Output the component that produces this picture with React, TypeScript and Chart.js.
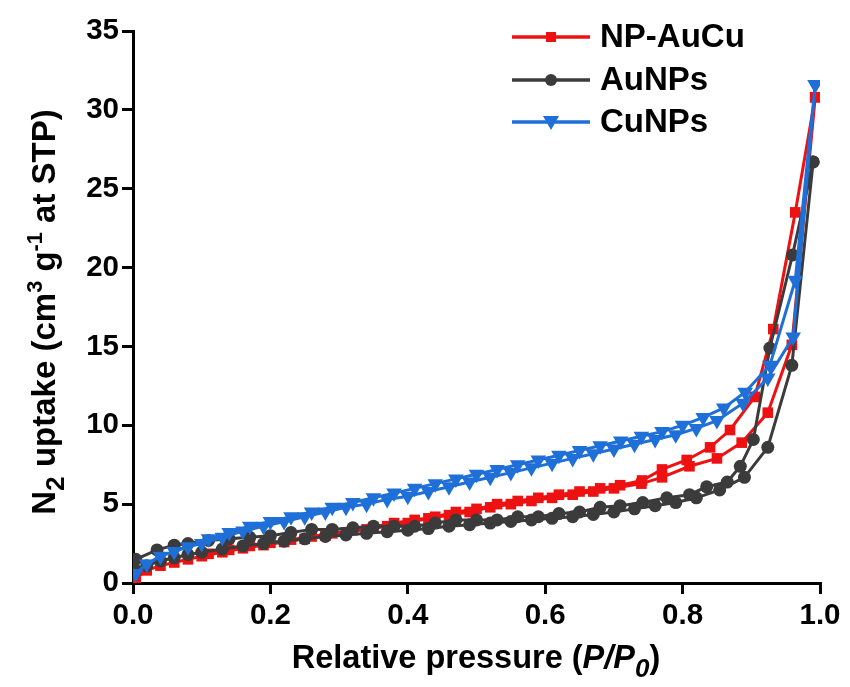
import { useEffect, useRef } from "react";
import { Chart, registerables } from "chart.js";

Chart.register(...registerables);

// N2 sorption isotherms: adsorption branch (rising P/P0) followed by desorption branch.
const AUCU_ADS_P = [0.004, 0.02, 0.04, 0.06, 0.08, 0.10, 0.13, 0.16, 0.19, 0.22, 0.25, 0.28, 0.31, 0.34, 0.37, 0.40, 0.43, 0.46, 0.49, 0.52, 0.55, 0.58, 0.61, 0.64, 0.67, 0.70, 0.74, 0.77, 0.81, 0.85, 0.886, 0.924, 0.959, 0.993];
const AUCU_ADS_V = [0.3, 0.8, 1.1, 1.3, 1.5, 1.7, 1.95, 2.2, 2.4, 2.6, 2.8, 3.0, 3.2, 3.4, 3.6, 3.8, 4.1, 4.3, 4.5, 4.8, 5.0, 5.2, 5.4, 5.6, 5.8, 6.0, 6.3, 6.7, 7.4, 7.9, 8.9, 10.8, 15.1, 30.8];
const AUCU_DES_P = [0.993, 0.964, 0.932, 0.905, 0.869, 0.84, 0.806, 0.77, 0.741, 0.709, 0.68, 0.65, 0.62, 0.59, 0.56, 0.53, 0.50, 0.47, 0.44, 0.41, 0.38, 0.35, 0.32, 0.29, 0.26, 0.23, 0.20, 0.17, 0.14, 0.11];
const AUCU_DES_V = [30.8, 23.5, 16.1, 11.8, 9.7, 8.6, 7.8, 7.2, 6.5, 6.2, 6.0, 5.8, 5.6, 5.4, 5.2, 5.0, 4.7, 4.5, 4.2, 4.0, 3.8, 3.55, 3.35, 3.15, 2.95, 2.75, 2.55, 2.35, 2.1, 1.85];

const AU_ADS_P = [0.004, 0.02, 0.04, 0.06, 0.08, 0.10, 0.13, 0.16, 0.19, 0.22, 0.25, 0.28, 0.31, 0.34, 0.37, 0.40, 0.43, 0.46, 0.49, 0.52, 0.55, 0.58, 0.61, 0.64, 0.67, 0.70, 0.73, 0.76, 0.79, 0.82, 0.854, 0.89, 0.924, 0.959, 0.99];
const AU_ADS_V = [0.8, 1.1, 1.4, 1.6, 1.8, 1.95, 2.15, 2.35, 2.5, 2.65, 2.8, 2.95, 3.05, 3.15, 3.25, 3.35, 3.45, 3.6, 3.7, 3.8, 3.9, 4.0, 4.1, 4.2, 4.35, 4.5, 4.7, 4.9, 5.1, 5.4, 5.9, 6.7, 8.6, 13.8, 26.7];
const AU_DES_P = [0.99, 0.96, 0.927, 0.903, 0.884, 0.865, 0.835, 0.81, 0.777, 0.742, 0.709, 0.68, 0.65, 0.62, 0.59, 0.56, 0.53, 0.50, 0.47, 0.44, 0.41, 0.38, 0.35, 0.32, 0.29, 0.26, 0.23, 0.20, 0.17, 0.14, 0.11, 0.08, 0.06, 0.035, 0.004];
const AU_DES_V = [26.7, 20.8, 14.9, 9.1, 7.4, 6.4, 6.1, 5.6, 5.4, 5.1, 4.9, 4.8, 4.5, 4.4, 4.2, 4.2, 4.0, 4.0, 4.0, 3.8, 3.6, 3.6, 3.6, 3.5, 3.4, 3.4, 3.2, 3.0, 2.9, 2.8, 2.7, 2.5, 2.4, 2.1, 1.5];

const CU_ADS_P = [0.004, 0.02, 0.04, 0.06, 0.08, 0.10, 0.13, 0.16, 0.19, 0.22, 0.25, 0.28, 0.31, 0.34, 0.37, 0.40, 0.43, 0.46, 0.49, 0.52, 0.55, 0.58, 0.61, 0.64, 0.67, 0.70, 0.73, 0.76, 0.79, 0.82, 0.85, 0.888, 0.924, 0.961, 0.993];
const CU_ADS_V = [0.6, 1.2, 1.7, 2.0, 2.3, 2.5, 2.9, 3.3, 3.6, 3.9, 4.2, 4.5, 4.8, 5.0, 5.3, 5.5, 5.8, 6.1, 6.4, 6.7, 7.0, 7.3, 7.6, 7.9, 8.2, 8.5, 8.8, 9.1, 9.4, 9.8, 10.3, 11.4, 13.0, 15.6, 31.6];
const CU_DES_P = [0.993, 0.964, 0.927, 0.891, 0.86, 0.83, 0.80, 0.77, 0.74, 0.71, 0.68, 0.65, 0.62, 0.59, 0.56, 0.53, 0.50, 0.47, 0.44, 0.41, 0.38, 0.35, 0.32, 0.29, 0.26, 0.23, 0.20, 0.17, 0.14, 0.11];
const CU_DES_V = [31.6, 19.2, 13.8, 12.1, 11.1, 10.5, 10.0, 9.6, 9.3, 9.0, 8.7, 8.4, 8.1, 7.8, 7.5, 7.2, 6.9, 6.6, 6.3, 6.0, 5.7, 5.4, 5.1, 4.8, 4.5, 4.2, 3.9, 3.6, 3.2, 2.8];

const SERIES_NAMES = ["NP-AuCu", "AuNPs", "CuNPs"];
const X_TICKS = [0, 0.2, 0.4, 0.6, 0.8, 1.0];
const Y_TICKS = [0, 5, 10, 15, 20, 25, 30, 35];

const RED = "#ee1111";
const DARK = "#3b3b3b";
const BLUE = "#1f6fd8";
const FONT = "'Liberation Sans', Arial, sans-serif";

const zip = (p: number[], v: number[]) => p.map((x, i) => ({ x, y: v[i] }));

type Part = { t: string; sub?: boolean; sup?: boolean; it?: boolean };

function drawRich(ctx: CanvasRenderingContext2D, parts: Part[], cx: number, baseline: number, size: number) {
  const fontFor = (p: Part) => {
    const s = p.sub ? size * 0.8 : p.sup ? size * 0.66 : size;
    return `${p.it ? "italic " : ""}bold ${s}px ${FONT}`;
  };
  let total = 0;
  const widths = parts.map((p) => {
    ctx.font = fontFor(p);
    const w = ctx.measureText(p.t).width;
    total += w;
    return w;
  });
  let x = cx - total / 2;
  ctx.textAlign = "left";
  ctx.textBaseline = "alphabetic";
  ctx.fillStyle = "#000";
  parts.forEach((p, i) => {
    ctx.font = fontFor(p);
    const dy = p.sub ? size * 0.28 : p.sup ? -size * 0.4 : 0;
    ctx.fillText(p.t, x, baseline + dy);
    x += widths[i];
  });
}

function drawMarker(ctx: CanvasRenderingContext2D, kind: string, x: number, y: number, color: string) {
  ctx.fillStyle = color;
  ctx.beginPath();
  if (kind === "rect") {
    ctx.rect(x - 5, y - 5, 10, 10);
  } else if (kind === "circle") {
    ctx.arc(x, y, 6, 0, Math.PI * 2);
  } else {
    ctx.moveTo(x - 8, y - 6);
    ctx.lineTo(x + 8, y - 6);
    ctx.lineTo(x, y + 8);
    ctx.closePath();
  }
  ctx.fill();
}

const decorations = {
  id: "decorations",
  afterDraw(chart: Chart) {
    const ctx = chart.ctx;
    ctx.save();
    // x-axis title
    drawRich(
      ctx,
      [{ t: "Relative pressure (" }, { t: "P/P", it: true }, { t: "0", it: true, sub: true }, { t: ")" }],
      476,
      668,
      32.5
    );
    // y-axis title (rotated)
    ctx.translate(55, 312);
    ctx.rotate(-Math.PI / 2);
    drawRich(
      ctx,
      [
        { t: "N" },
        { t: "2", sub: true },
        { t: " uptake (cm" },
        { t: "3", sup: true },
        { t: " g" },
        { t: "-1", sup: true },
        { t: " at STP)" },
      ],
      0,
      0,
      33
    );
    ctx.restore();

    // legend
    ctx.save();
    const rows = [
      { name: SERIES_NAMES[0], color: RED, kind: "rect", y: 37 },
      { name: SERIES_NAMES[1], color: DARK, kind: "circle", y: 80 },
      { name: SERIES_NAMES[2], color: BLUE, kind: "tri", y: 122 },
    ];
    rows.forEach((r) => {
      ctx.strokeStyle = r.color;
      ctx.lineWidth = 3.5;
      ctx.beginPath();
      ctx.moveTo(512, r.y);
      ctx.lineTo(590, r.y);
      ctx.stroke();
      drawMarker(ctx, r.kind, 551, r.y, r.color);
      ctx.fillStyle = "#000";
      ctx.font = `bold 33px ${FONT}`;
      ctx.textAlign = "left";
      ctx.textBaseline = "middle";
      ctx.fillText(r.name, 600, r.y + 1);
    });
    ctx.restore();
  },
};

export default function App() {
  const ref = useRef<HTMLCanvasElement>(null);

  useEffect(() => {
    document.body.style.margin = "0";
    const canvas = ref.current;
    if (!canvas) return;

    const axisCommon = {
      type: "linear" as const,
      z: 1,
      border: { display: true, color: "#000", width: 3 },
      grid: {
        drawOnChartArea: false,
        drawTicks: true,
        tickLength: 11,
        lineWidth: 3,
        color: "#000",
      },
    };

    const chart = new Chart(canvas, {
      type: "line",
      data: {
        datasets: [
          {
            label: SERIES_NAMES[0],
            data: [...zip(AUCU_ADS_P, AUCU_ADS_V), ...zip(AUCU_DES_P, AUCU_DES_V)],
            borderColor: RED,
            backgroundColor: RED,
            borderWidth: 3,
            pointStyle: "rect",
            pointRadius: 7.5,
            pointBorderWidth: 0,
            order: 3,
          },
          {
            label: SERIES_NAMES[1],
            data: [...zip(AU_ADS_P, AU_ADS_V), ...zip(AU_DES_P, AU_DES_V)],
            borderColor: DARK,
            backgroundColor: DARK,
            borderWidth: 3,
            pointStyle: "circle",
            pointRadius: 6.5,
            pointBorderWidth: 0,
            order: 2,
          },
          {
            label: SERIES_NAMES[2],
            data: [...zip(CU_ADS_P, CU_ADS_V), ...zip(CU_DES_P, CU_DES_V)],
            borderColor: BLUE,
            backgroundColor: BLUE,
            borderWidth: 3,
            pointStyle: "triangle",
            pointRotation: 180,
            pointRadius: 9,
            pointBorderWidth: 0,
            order: 1,
          },
        ],
      },
      options: {
        responsive: false,
        animation: false,
        devicePixelRatio: 1,
        layout: { padding: { left: 0, top: 31, right: 30, bottom: 0 } },
        plugins: { legend: { display: false }, tooltip: { enabled: false } },
        elements: { line: { tension: 0 } },
        scales: {
          x: {
            ...axisCommon,
            min: 0,
            max: 1,
            afterFit: (s: any) => {
              s.height = 104;
            },
            afterBuildTicks: (s: any) => {
              s.ticks = X_TICKS.map((v) => ({ value: v }));
            },
            ticks: {
              autoSkip: false,
              maxRotation: 0,
              padding: 4,
              color: "#000",
              font: { family: FONT, size: 29.5, weight: "bold" },
              callback: (v: any) => Number(v).toFixed(1),
            },
          },
          y: {
            ...axisCommon,
            min: 0,
            max: 35,
            afterFit: (s: any) => {
              s.width = 133;
            },
            afterBuildTicks: (s: any) => {
              s.ticks = Y_TICKS.map((v) => ({ value: v }));
            },
            ticks: {
              autoSkip: false,
              padding: 3,
              color: "#000",
              font: { family: FONT, size: 29.5, weight: "bold" },
              callback: (v: any) => String(v),
            },
          },
        },
      },
      plugins: [decorations],
    });

    return () => chart.destroy();
  }, []);

  return (
    <div style={{ width: 850, height: 687, background: "#fff" }}>
      <canvas ref={ref} width={850} height={687} style={{ display: "block" }} />
    </div>
  );
}
